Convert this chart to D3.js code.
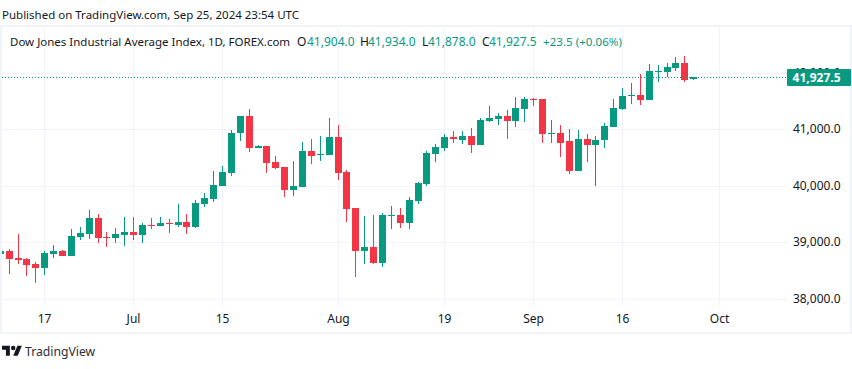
<!DOCTYPE html>
<html>
<head>
<meta charset="utf-8">
<script src="https://cdn.jsdelivr.net/npm/d3@7"></script>
<style>
    html, body { margin: 0; padding: 0; background: #fff; }
    svg { display: block; }
    text { font-family: "Noto Sans", sans-serif; }
</style>
</head>
<body>
<div id="chart"></div>
<script>
// daily bars, bar 0 is the one cut off at the left edge
const opens = [38800,38853,38730,38712,38624,38554,38800,38853,38765,39100,39153,39435,39100,39083,39136,39189,39136,39312,39294,39347,39312,39365,39277,39682,
    39771,40000,40229,40935,41252,40670,40705,40423,40335,39929,39982,40617,40547,40547,40864,40247,39612,38853,38924,38642,39471,39488,39347,
    39735,40035,40564,40670,40864,40828,40899,40723,41164,41199,41252,41164,41375,41552,41552,40934,40952,40793,40264,40846,40723,40811,
    41058,41376,41605,41623,41534,42028,42028,42099,42187,41904]
const highs = [38871,38889,39153,38730,38659,38853,38959,38871,39241,39277,39577,39506,39189,39259,39453,39453,39347,39435,39453,39418,39682,39506,39753,39876,
    40264,40353,40988,41252,41376,40723,40705,40529,40335,40441,40776,40829,40882,41217,41093,40282,39612,39471,39488,39524,39647,39612,39806,
    40070,40617,40740,40917,40970,40987,41040,41216,41428,41305,41358,41587,41587,41569,41552,41181,41093,41022,41005,40934,40899,41128,
    41552,41746,41834,41993,42169,42152,42187,42293,42310,41934]
const lows = [38783,38448,38624,38412,38289,38430,38730,38765,38765,39047,39065,38995,38924,38995,38942,39047,38995,39241,39294,39171,39277,39153,39259,39629,
    39718,40000,40176,40793,40600,40670,40229,40300,39806,39823,39982,40388,40441,40547,40106,39365,38395,38624,38624,38571,39241,39259,39241,
    39682,40000,40423,40617,40758,40740,40582,40723,41146,41093,40846,41058,41146,41428,40775,40775,40511,40211,40264,40423,40000,40670,
    41058,41358,41464,41446,41534,41852,41940,42046,41852,41878]
const closes = [38853,38712,38695,38606,38554,38818,38853,38765,39118,39171,39435,39083,39083,39153,39189,39136,39312,39294,39347,39330,39365,39277,39700,39788,
    40017,40247,40952,41252,40670,40705,40405,40317,39929,40000,40617,40529,40564,40864,40229,39594,38853,38924,38642,39488,39488,39347,39753,
    40052,40582,40687,40864,40846,40899,40723,41181,41216,41252,41164,41393,41552,41534,40934,40952,40775,40264,40846,40723,40828,41075,
    41393,41605,41623,41534,42046,42046,42116,42187,41887,41927.5]

const priceTicks = [38000,39000,40000,41000,42000]
const timeTickBars = [5,15,25,38,50,60,70,80.9]
const timeTickLabels = ['17','Jul','15','Aug','19','Sep','16','Oct']
const lastPrice = 41927.5

const legendTexts = ['Dow Jones Industrial Average Index, 1D, FOREX.com','O','41,904.0','H','41,934.0','L','41,878.0','C','41,927.5','+23.5 (+0.06%)']

const width = 852
const height = 369
const plot = { left: 2, right: 787, top: 27, bottom: 306 }
const up = '#089981'
const down = '#F23645'
const gridColor = '#f0f3fa'
const textColor = '#131722'

const svg = d3.select('#chart').append('svg')
    .attr('width', width)
    .attr('height', height)

const xScale = d3.scaleLinear().domain([5, 78]).range([44.6, 693.6])
const yScale = d3.scaleLinear().domain([38000, 42000]).range([299.3, 73.3])
const snapX = d => Math.floor(xScale(d) + 0.1)

svg.append('text')
    .attr('x', 2).attr('y', 19)
    .attr('font-size', 11.5)
    .attr('fill', textColor)
    .text('Published on TradingView.com, Sep 25, 2024 23:54 UTC')

svg.append('rect')
    .attr('x', 1).attr('y', 26)
    .attr('width', 850).attr('height', 307)
    .attr('fill', 'none')
    .attr('stroke', gridColor)
    .attr('stroke-width', 2)

svg.append('clipPath').attr('id', 'plot-clip').append('rect')
    .attr('x', plot.left).attr('y', plot.top)
    .attr('width', plot.right - plot.left).attr('height', plot.bottom - plot.top)

// price axis, ticks stretched into gridlines
const yAxis = svg.append('g')
    .attr('transform', `translate(${plot.right}, 0)`)
    .call(d3.axisRight(yScale)
        .tickValues(priceTicks)
        .tickSize(-(plot.right - plot.left))
        .tickFormat(d => d3.format(',.1f')(d)))
yAxis.select('.domain').remove()
yAxis.selectAll('.tick')
    .attr('transform', d => `translate(0, ${Math.floor(yScale(d)) + 0.5})`)
yAxis.selectAll('.tick line').attr('stroke', gridColor)
yAxis.selectAll('.tick text')
    .attr('x', 53.5)
    .attr('text-anchor', 'end')
    .attr('font-size', 12)
    .attr('font-family', '"Noto Sans", sans-serif')
    .attr('fill', textColor)

// time axis
const xAxis = svg.append('g')
    .attr('transform', `translate(0, ${plot.bottom})`)
    .call(d3.axisBottom(xScale)
        .tickValues(timeTickBars)
        .tickSize(-(plot.bottom - plot.top))
        .tickPadding(8)
        .tickFormat((d, i) => timeTickLabels[i]))
xAxis.select('.domain').remove()
xAxis.selectAll('.tick')
    .attr('transform', d => `translate(${snapX(d) + 0.5}, 0)`)
xAxis.selectAll('.tick line').attr('stroke', gridColor)
xAxis.selectAll('.tick text')
    .attr('font-size', 12)
    .attr('font-family', '"Noto Sans", sans-serif')
    .attr('fill', textColor)

// candles
const bars = d3.range(opens.length)
const candles = svg.append('g').attr('clip-path', 'url(#plot-clip)')
const barColor = i => closes[i] >= opens[i] ? up : down

candles.selectAll('.wick')
    .data(bars)
    .enter()
    .append('rect')
    .attr('class', 'wick')
    .attr('x', i => snapX(i))
    .attr('y', i => Math.round(yScale(highs[i])))
    .attr('width', 1)
    .attr('height', i => Math.max(1, Math.round(yScale(lows[i])) - Math.round(yScale(highs[i]))))
    .attr('fill', barColor)
    .attr('shape-rendering', 'crispEdges')

candles.selectAll('.body')
    .data(bars)
    .enter()
    .append('rect')
    .attr('class', 'body')
    .attr('x', i => snapX(i) - 3)
    .attr('y', i => Math.round(yScale(Math.max(opens[i], closes[i]))))
    .attr('width', 7)
    .attr('height', i => Math.max(1, Math.round(yScale(Math.min(opens[i], closes[i]))) - Math.round(yScale(Math.max(opens[i], closes[i])))))
    .attr('fill', barColor)
    .attr('shape-rendering', 'crispEdges')

// last price line and badge
const lastY = Math.floor(yScale(lastPrice))

svg.append('line')
    .attr('x1', plot.left).attr('x2', plot.right)
    .attr('y1', lastY + 0.5)
    .attr('y2', lastY + 0.5)
    .attr('stroke', up)
    .attr('stroke-dasharray', '1 2')
    .attr('shape-rendering', 'crispEdges')

svg.append('rect')
    .attr('x', plot.right).attr('y', lastY - 8)
    .attr('width', 64).attr('height', 17)
    .attr('rx', 1)
    .attr('fill', up)

svg.append('text')
    .attr('x', plot.right + 53.5)
    .attr('y', lastY + 5)
    .attr('text-anchor', 'end')
    .attr('font-size', 12)
    .attr('font-weight', 700)
    .attr('fill', '#fff')
    .text(d3.format(',.1f')(lastPrice))

// legend row: name, then label and value pairs
const legendX = [10, 297, 307, 360, 368, 422, 428, 482, 489, 543]
svg.selectAll('.legend-run')
    .data(legendTexts)
    .enter()
    .append('text')
    .attr('class', 'legend-run')
    .attr('x', (d, i) => legendX[i])
    .attr('y', 46)
    .attr('font-size', (d, i) => i === 0 ? 11.5 : i === 9 ? 11.6 : 12)
    .attr('fill', (d, i) => i === 0 || (i % 2 === 1 && i < 9) ? textColor : up)
    .text(d => d)

// logo
const logo = svg.append('g')
    .attr('transform', 'translate(2, 343.5) scale(0.56)')
    .attr('fill', textColor)
logo.append('path').attr('d', 'M14 22H7V11H0V4h14v18zM28 22h-8l7.5-18h8L28 22z')
logo.append('circle').attr('cx', 20).attr('cy', 8).attr('r', 4)

svg.append('text')
    .attr('x', 25).attr('y', 356)
    .attr('font-size', 12.2)
    .attr('fill', '#2a2e39')
    .text('TradingView')
</script>
</body>
</html>
